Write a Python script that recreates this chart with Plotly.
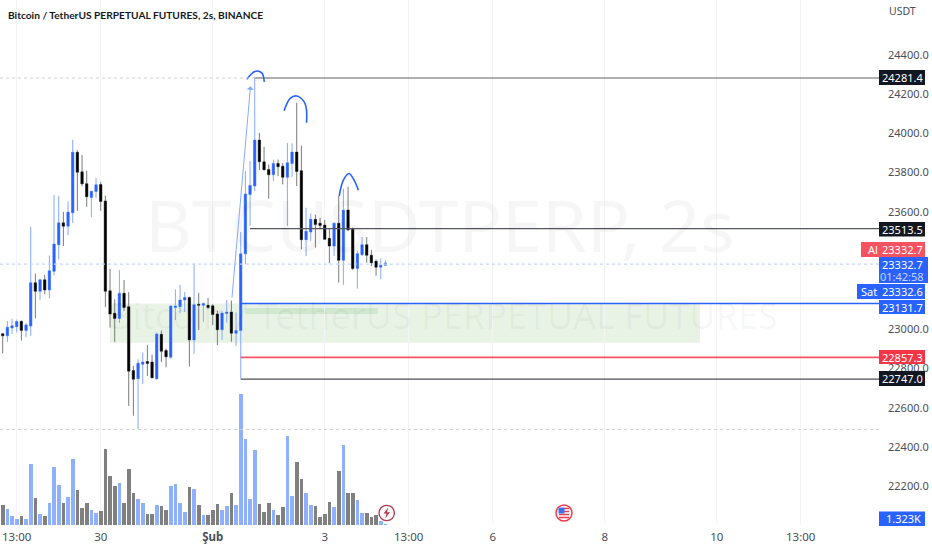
import plotly.graph_objects as go

opens = [22978,22967,23007,23014,23041,22995,23017,23238,23194,23253,23201,23296,23431,23543,23526,23594,23903,23803,23743,23672,23703,23738,23655,23197,23082,23056,23184,23116,22790,22749,22822,22836,22834,22749,22975,22892,22858,23112,23116,23150,23163,22946,23128,23123,23123,23120,23079,22998,23081,23089,22981,22994,23385,23688,23731,23965,23854,23815,23788,23846,23832,23775,23846,23904,23809,23457,23496,23561,23541,23532,23464,23425,23541,23352,23608,23510,23310,23381,23432,23378,23347,23317,23327]
closes = [22967,23011,23019,23040,22995,23023,23238,23194,23253,23201,23299,23435,23543,23526,23598,23903,23801,23742,23676,23704,23737,23652,23194,23078,23056,23184,23111,22787,22746,22828,22834,22826,22753,22977,22889,22860,23119,23119,23150,23163,22946,23126,23123,23132,23111,23076,22998,23083,23089,22981,22994,23385,23690,23734,23965,23854,23814,23788,23846,23829,23775,23849,23904,23805,23457,23500,23561,23535,23530,23459,23425,23541,23352,23608,23507,23310,23386,23432,23378,23340,23317,23327,23339]
highs = [22980,23043,23055,23050,23045,23034,23523,23285,23258,23279,23377,23686,23679,23599,23653,23967,23913,23889,23808,23706,23772,23752,23682,23309,23153,23302,23252,23190,22814,22848,22882,22921,22872,22984,22994,22902,23123,23204,23228,23190,23167,23336,23187,23137,23161,23128,23095,23095,23150,23147,23086,23496,23807,23858,24282,24002,23931,23841,23866,23866,23849,23951,23948,24155,23937,23620,23591,23585,23569,23558,23517,23547,23680,23717,23727,23519,23400,23471,23471,23405,23357,23361,23352]
lows = [22878,22936,22977,22984,22943,22960,22967,23056,23151,23179,23158,23275,23357,23425,23479,23543,23604,23730,23625,23572,23670,23604,23114,23009,22936,23033,23094,22610,22560,22492,22722,22763,22753,22743,22834,22807,22851,23048,23082,23089,22811,22875,22997,23039,23103,23022,22920,22947,23035,22937,22916,22750,23332,23527,23705,23812,23810,23666,23756,23781,23739,23527,23778,23731,23408,23374,23451,23417,23510,23459,23337,23374,23239,23227,23502,23303,23208,23374,23340,23323,23273,23256,23323]
volumes_k = [26.4,20.7,11.9,7.9,11.9,7.9,81,36.1,14.5,11.9,29.5,77,52.8,29.5,37,87.6,45.8,22,28.6,19.4,15.4,18,99.9,65.1,51,55.4,29.5,73.5,42.7,34.3,28.6,14.5,14.5,26.8,24.6,19.4,51,53.7,29.5,17.2,50.2,48,26.8,12.8,12.8,19.4,27.7,20.2,24.6,41.8,26,172.9,113.5,34.3,98.6,27.7,17.2,29.5,19.4,13.6,23.8,117,38.7,82.7,60.3,42.7,26.8,24.6,11,14.5,30.4,23.8,70.8,105.2,42.7,42.7,32.6,16.3,15.4,10.1,12.8,5.7,1.323]

x_tick_pos = [3, 21, 45, 69, 87, 105, 129, 153, 171]
x_tick_labels = ["13:00", "30", "<b>Şub</b>", "3", "13:00", "6", "8", "10", "13:00"]
price_ticks = [22200, 22400, 22600, 22800, 23000, 23600, 23800, 24000, 24200, 24400]

FONT = "Noto Sans"
BLUE, BLACK, RED = "#2962ff", "#000000", "#f7525f"
W, H, PLOT_W, PLOT_H = 932, 550, 879, 525

xs = list(range(len(opens)))
px = lambda v: v / PLOT_W
py = lambda v: 1 - v / PLOT_H

fig = go.Figure()

fig.add_trace(go.Bar(x=xs, y=volumes_k, yaxis="y2", width=0.78,
    marker=dict(color=["#8fb0ff" if c >= o else "#808080" for o, c in zip(opens, closes)], line_width=0),
    hoverinfo="skip"))

fig.add_trace(go.Candlestick(x=xs, open=opens, high=highs, low=lows, close=closes,
    increasing=dict(line=dict(color="#86a9ff", width=1), fillcolor="#86a9ff"),
    decreasing=dict(line=dict(color="#7a7a7a", width=1), fillcolor="#7a7a7a"),
    whiskerwidth=0, hoverinfo="skip"))
fig.add_trace(go.Candlestick(x=xs, open=opens, close=closes,
    high=[max(o, c) for o, c in zip(opens, closes)],
    low=[min(o, c) for o, c in zip(opens, closes)],
    increasing=dict(line=dict(color=BLUE, width=0), fillcolor=BLUE),
    decreasing=dict(line=dict(color=BLACK, width=0), fillcolor=BLACK),
    whiskerwidth=0, hoverinfo="skip"))

# drawn curves over the three peaks (bar index, price)
arc_x = [[52.3, 54.05, 55.5, 56.05], [60.3, 61.6, 63, 64.6, 65.1, 65.1], [72.1, 73, 74.2, 75.3, 76.2]]
arc_y = [[24275, 24315, 24308, 24262], [24115, 24178, 24190, 24160, 24118, 24053], [23680, 23761, 23795, 23761, 23710]]
for ax_, ay_ in zip(arc_x, arc_y):
    fig.add_trace(go.Scatter(x=ax_, y=ay_, mode="lines", line=dict(color=BLUE, width=1.6, shape="spline"),
                             hoverinfo="skip"))

shapes = []
def hline(price, x0, color, width=1, dash="solid", x1=187.8):
    shapes.append(dict(type="line", xref="x", yref="y", x0=x0, x1=x1, y0=price, y1=price,
                       line=dict(color=color, width=width, dash=dash)))
# zones
shapes.append(dict(type="rect", xref="x", yref="y", x0=23, x1=149.4, y0=22932, y1=23131.7,
                   fillcolor="#e8f3e6", line_width=0, layer="below"))
shapes.append(dict(type="rect", xref="x", yref="y", x0=52, x1=80.4, y0=23078, y1=23109,
                   fillcolor="#cfe8cf", line_width=0, layer="below"))
hline(24281.4, -0.6, "#cfcfcf", 1, "dot", 54)
hline(22490, -0.6, "#cfcfcf", 1, "dot")
hline(23332.7, -0.6, "#c2d4ff", 1.2, "dot")
hline(24281.4, 54, "#5f6168", 1.2)
hline(23513.5, 53, "#55575e", 1.2)
hline(23131.7, 51, BLUE, 1.6)
hline(22857.3, 51, RED, 1.8)
hline(22747.0, 51, "#4a4c54", 1.2)

annotations = []
def text(x, y, s, size=11, color="#131722", anchor="left", family=FONT, **kw):
    annotations.append(dict(xref="paper", yref="paper", x=px(x), y=py(y), text=s, showarrow=False,
                            xanchor=anchor, yanchor="middle", font=dict(family=family, size=size, color=color), **kw))
def tag(x0, x1, y0, y1, color):
    shapes.append(dict(type="rect", xref="paper", yref="paper", x0=px(x0), x1=px(x1), y0=py(y0), y1=py(y1),
                       fillcolor=color, line_width=0, layer="above"))

# watermark
text(440, 224, "BTCUSDTPERP, 2s", 72, "rgba(0,0,0,0.035)", "center")
text(443, 315, "Bitcoin / TetherUS PERPETUAL FUTURES", 36, "rgba(0,0,0,0.035)", "center")

text(6, 15, "<b>Bitcoin / TetherUS PERPETUAL FUTURES, 2s, BINANCE</b>", 10.2, "#131722", family="Lato")
text(887, 11, "USDT", 10.5, "#4a4e57")

DARK = "#131722"
labels = [
    (879, 925, 70, 85, DARK, "24281.4"),
    (879, 925, 222, 236.5, DARK, "23513.5"),
    (861, 925, 242, 257, RED, "23332.7"),
    (879, 928, 257, 283, BLUE, None),
    (857, 925, 284, 299, BLUE, "23332.6"),
    (879, 925, 300, 314, BLUE, "23131.7"),
    (879, 925, 350, 364, "#f23645", "22857.3"),
    (879, 925, 371, 386, DARK, "22747.0"),
    (879, 925, 511.5, 526, BLUE, "1.323K"),
]
for x0, x1, y0, y1, col, s in labels:
    tag(x0, x1, y0, y1, col)
    if s:
        text(902 if s != "1.323K" else 903, (y0 + y1) / 2, s, 11, "white", "center")
text(902, 264, "23332.7", 11, "white", "center")
text(902, 276, "01:42:58", 11, "#c3d3ff", "center")
text(866, 249.5, "Al", 11, "white", "left")
text(859, 291.5, "Sat", 11, "white", "left")

# event icons
def circle(cx, cy, r, fill, line, lw):
    shapes.append(dict(type="circle", xref="paper", yref="paper", x0=px(cx - r), x1=px(cx + r),
                       y0=py(cy + r), y1=py(cy - r), fillcolor=fill, line=dict(color=line, width=lw), layer="above"))
circle(386.7, 513, 7.7, "white", "#b2384f", 1.3)
bolt = [(388.3, 507.5), (383.5, 513.5), (386.5, 513.5), (385.2, 518.5), (390, 512.2), (387, 512.2)]
shapes.append(dict(type="path", xref="paper", yref="paper", layer="above", line_width=0, fillcolor="#b2384f",
                   path="M" + " L".join(f"{px(a):.5f},{py(b):.5f}" for a, b in bolt) + " Z"))
circle(564, 513, 8, "white", "#f0394a", 1.5)
for yy in (508.5, 511.5, 514.5, 517.5):
    x0 = 559 if yy > 513 else 564
    shapes.append(dict(type="line", xref="paper", yref="paper", layer="above", x0=px(x0), x1=px(569),
                       y0=py(yy), y1=py(yy), line=dict(color="#f0394a", width=1.5)))
shapes.append(dict(type="rect", xref="paper", yref="paper", layer="above", x0=px(558.5), x1=px(564.5),
                   y0=py(513.5), y1=py(507.5), fillcolor="#3f6fe8", line_width=0))

# long arrow
annotations.append(dict(xref="x", yref="y", axref="x", ayref="y", x=53.1, y=24240, ax=49.1, ay=23154, text="",
                        showarrow=True, arrowhead=1, arrowsize=1.2, arrowwidth=1, arrowcolor="#86a9ff"))

fig.update_layout(
    width=W, height=H, autosize=False, showlegend=False,
    margin=dict(l=0, r=W - PLOT_W, t=0, b=H - PLOT_H),
    paper_bgcolor="white", plot_bgcolor="white",
    boxgap=0.28, boxmode="overlay", dragmode=False, bargap=0,
    font=dict(family=FONT, size=11, color="#4a4e57"),
    shapes=shapes, annotations=annotations,
    xaxis=dict(range=[-0.58, 187.77], tickmode="array", tickvals=x_tick_pos, ticktext=x_tick_labels,
               showgrid=True, gridcolor="#f3f4f7", gridwidth=1, zeroline=False, showline=False,
               ticks="", ticklabelstandoff=3, rangeslider=dict(visible=False), tickfont=dict(size=11.5, color="#4a4e57")),
    yaxis=dict(range=[22003, 24679], side="right", overlaying="y2", tickmode="array", tickvals=price_ticks,
               ticktext=[f"{v:.1f}" for v in price_ticks], showgrid=False, zeroline=False, showline=False,
               ticks="", ticklabelstandoff=8, tickfont=dict(size=11, color="#4a4e57")),
    yaxis2=dict(range=[0, 693], visible=False, showgrid=False, zeroline=False),
)

fig.write_html("out.html", config={"displayModeBar": False}, post_script="document.body.style.margin='0';")
